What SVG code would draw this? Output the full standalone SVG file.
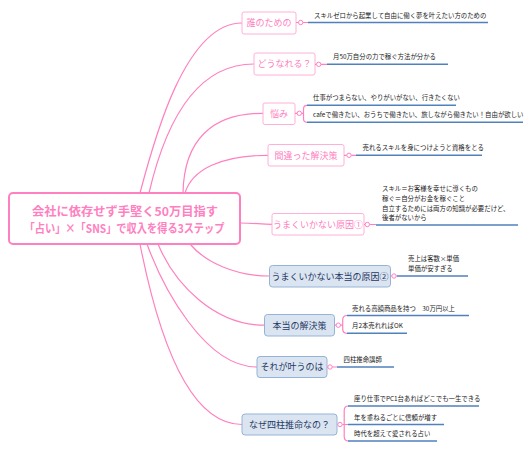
<svg xmlns="http://www.w3.org/2000/svg" width="532" height="450" viewBox="0 0 532 450">
<style>
text{font-family:"Noto Sans CJK JP","Noto Sans",sans-serif}
.conn{fill:none;stroke:#ff80c0;stroke-width:1.2}
.ul{stroke:#4f81bd;stroke-width:1.5}
.dot{fill:#fff;stroke:#ff80c0;stroke-width:1}
.pn{fill:#fff;stroke:#ffb0d8;stroke-width:1}
.pt{fill:#ff80c0;font-size:9px;text-anchor:middle}
.bn{fill:#dbe5f1;stroke:#95b3d7;stroke-width:1}
.bt{fill:#1f3864;font-size:9px;text-anchor:middle}
.lt{fill:#222;font-size:6.4px}
.rt{fill:#ff80c0;font-size:12px;font-weight:bold;text-anchor:middle}
</style>
<rect width="532" height="450" fill="#fff"/>
<g id="connectors">
<path class="conn" d="M140,193 C154,140 185,23 242,23"/>
<path class="conn" d="M149,193 C163.7,130 192.6,64 254,64"/>
<path class="conn" d="M183,193 C184,140 212,113.3 263,113.3"/>
<path class="conn" d="M185,193 C192,170 220,155.3 268,155.3"/>
<path class="conn" d="M240,223 C255,223 260,224.3 272,224.3"/>
<path class="conn" d="M190,244 C205,262 235,276 269.5,276"/>
<path class="conn" d="M158,244 C175,285 215,325.2 264.5,325.2"/>
<path class="conn" d="M147,244 C163,288 205,367 257,367"/>
<path class="conn" d="M140,244 C152,305 180,424.5 242,424.5"/>
</g>
<g id="root">
<rect x="9" y="193" width="231" height="51" rx="4" fill="#fff" stroke="#ff80c0" stroke-width="2"/>
<text class="rt" x="125" y="215.5" textLength="186" lengthAdjust="spacingAndGlyphs">会社に依存せず手堅く50万目指す</text>
<text class="rt" x="124.5" y="233" textLength="200" lengthAdjust="spacingAndGlyphs">「占い」×「SNS」で収入を得る3ステップ</text>
</g>
<g id="n1">
<rect class="pn" x="242" y="12" width="54" height="22" rx="2"/>
<text class="pt" x="269" y="26.2">誰のための</text>
<path class="conn" d="M296,22.5 H298.5 M302.9,22.5 H308"/>
<circle class="dot" cx="300.7" cy="22.5" r="2.2"/>
<line class="ul" x1="308" y1="22.5" x2="488" y2="22.5"/>
<text class="lt" x="314" y="17.5">スキルゼロから起業して自由に働く夢を叶えたい方のための</text>
</g>
<g id="n2">
<rect class="pn" x="254" y="53" width="61" height="22" rx="2"/>
<text class="pt" x="284.5" y="67.2">どうなれる？</text>
<path class="conn" d="M315,64.3 H316.5 M320.9,64.3 H327"/>
<circle class="dot" cx="318.7" cy="64.3" r="2.2"/>
<line class="ul" x1="327" y1="64.3" x2="448" y2="64.3"/>
<text class="lt" x="333" y="59.3">月50万自分の力で稼ぐ方法が分かる</text>
</g>
<g id="n3">
<rect class="pn" x="263" y="103" width="32" height="21.5" rx="2"/>
<text class="pt" x="279" y="117">悩み</text>
<path class="conn" d="M295,113.3 H297.1 M301.5,113.3 H303.5 M307,105.3 Q303.5,105.3 303.5,109 L303.5,118.5 Q303.5,122.3 307,122.3"/>
<circle class="dot" cx="299.3" cy="113.3" r="2.2"/>
<line class="ul" x1="307" y1="105.3" x2="456" y2="105.3"/>
<line class="ul" x1="307" y1="122.3" x2="523" y2="122.3"/>
<text class="lt" x="313" y="100.3">仕事がつまらない、やりがいがない、行きたくない</text>
<text class="lt" x="313" y="117.3">cafeで働きたい、おうちで働きたい、旅しながら働きたい！自由が欲しい</text>
</g>
<g id="n4">
<rect class="pn" x="268" y="144.5" width="76" height="21.5" rx="2"/>
<text class="pt" x="306" y="158.5">間違った解決策</text>
<path class="conn" d="M344,155.3 H346.8 M351.2,155.3 H356"/>
<circle class="dot" cx="349" cy="155.3" r="2.2"/>
<line class="ul" x1="356" y1="155.3" x2="482" y2="155.3"/>
<text class="lt" x="362.5" y="150.3">売れるスキルを身につけようと資格をとる</text>
</g>
<g id="n5">
<rect class="pn" x="272" y="213.5" width="92" height="21.5" rx="2"/>
<text class="pt" x="318" y="227.5">うまくいかない原因①</text>
<path class="conn" d="M364,224.5 H365.1 M369.5,224.5 H376"/>
<circle class="dot" cx="367.3" cy="224.5" r="2.2"/>
<line class="ul" x1="376" y1="225" x2="518" y2="225"/>
<text class="lt" x="382" y="191.2">スキル＝お客様を幸せに導くもの</text>
<text class="lt" x="382" y="200.9">稼ぐ＝自分がお金を稼ぐこと</text>
<text class="lt" x="382" y="210.6">自立するためには両方の知識が必要だけど、</text>
<text class="lt" x="382" y="220.3">後者がないから</text>
</g>
<g id="n6">
<rect class="bn" x="269.5" y="265.5" width="121" height="21.5" rx="3"/>
<text class="bt" x="330" y="279.5">うまくいかない本当の原因②</text>
<path class="conn" d="M390.5,276 H391.8 M396.2,276 H397"/>
<circle class="dot" cx="394" cy="276" r="2.2"/>
<line class="ul" x1="397" y1="276" x2="468" y2="276"/>
<text class="lt" x="408" y="261">売上は客数×単価</text>
<text class="lt" x="408" y="270.7">単価が安すぎる</text>
</g>
<g id="n7">
<rect class="bn" x="264.5" y="314.5" width="70" height="21.5" rx="3"/>
<text class="bt" x="299.5" y="328.5">本当の解決策</text>
<path class="conn" d="M334.5,325.2 H336.1 M340.5,325.2 H342.7 M347,315.5 Q342.7,315.5 342.7,320 L342.7,329 Q342.7,333.3 347,333.3"/>
<circle class="dot" cx="338.3" cy="325.2" r="2.2"/>
<line class="ul" x1="347" y1="315.5" x2="469" y2="315.5"/>
<line class="ul" x1="347" y1="333.3" x2="407" y2="333.3"/>
<text class="lt" x="352" y="310.5">売れる高額商品を持つ　30万円以上</text>
<text class="lt" x="352" y="328.3">月2本売れればOK</text>
</g>
<g id="n8">
<rect class="bn" x="257" y="356.5" width="70" height="21" rx="3"/>
<text class="bt" x="292" y="370.2">それが叶うのは</text>
<path class="conn" d="M327,367 H327.8 M332.2,367 H337"/>
<circle class="dot" cx="330" cy="367" r="2.2"/>
<line class="ul" x1="337" y1="367" x2="394" y2="367"/>
<text class="lt" x="343.5" y="362">四柱推命講師</text>
</g>
<g id="n9">
<rect class="bn" x="242" y="414" width="95" height="21" rx="3"/>
<text class="bt" x="289.5" y="427.7">なぜ四柱推命なの？</text>
<path class="conn" d="M337,424.5 H337.8 M342.2,424.5 H348 M348.5,406 Q344.2,406 344.2,410.5 L344.2,436.5 Q344.2,441 348.5,441"/>
<circle class="dot" cx="340" cy="424.5" r="2.2"/>
<line class="ul" x1="348" y1="406" x2="479" y2="406"/>
<line class="ul" x1="348" y1="424.5" x2="444" y2="424.5"/>
<line class="ul" x1="348" y1="441" x2="437" y2="441"/>
<text class="lt" x="354" y="401">座り仕事でPC1台あればどこでも一生できる</text>
<text class="lt" x="354" y="419.5">年を重ねるごとに信頼が増す</text>
<text class="lt" x="354" y="436">時代を超えて愛される占い</text>
</g>
</svg>
